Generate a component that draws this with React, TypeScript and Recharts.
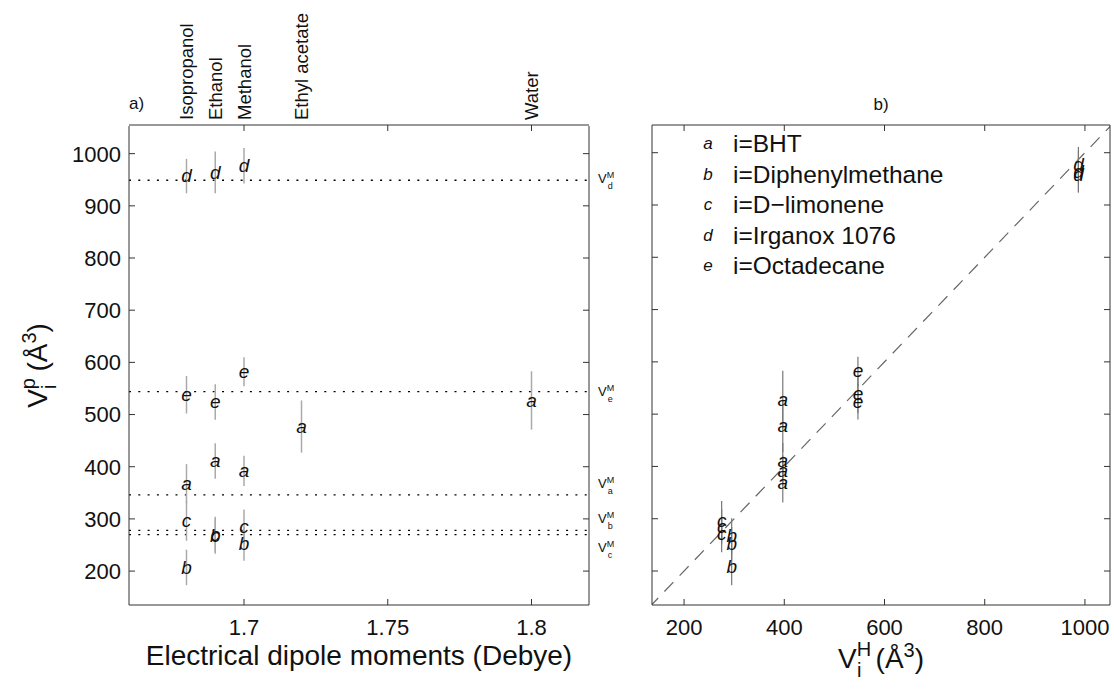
import React from 'react';
import { ScatterChart, Scatter, XAxis, YAxis, ErrorBar, ReferenceLine, Legend } from 'recharts';

// compounds (letter codes used as plot symbols)
const compoundKeys = ['a', 'b', 'c', 'd', 'e'];
const compoundNames = ['BHT', 'Diphenylmethane', 'D\u2212limonene', 'Irganox 1076', 'Octadecane'];

// solvents and their dipole moments (Debye)
const solventNames = ['Isopropanol', 'Ethanol', 'Methanol', 'Ethyl acetate', 'Water'];
const solventDipoles = [1.68, 1.69, 1.7, 1.72, 1.8];

// V_i^H per compound, V_i^M per compound
const volumeH = [397, 295, 275, 987, 547];
const volumeM = [346, 278, 270, 949, 544];

// V_i^p per solvent (null = not measured) and half error bars
const vpBHT = [368, 411, 392, 477, 527];
const errBHT = [37, 34, 29, 50, 56];
const vpDiphenyl = [207, 267, 252, null, null];
const errDiphenyl = [34, 34, 32, null, null];
const vpLimonene = [296, 270, 285, null, null];
const errLimonene = [38, 34, 33, null, null];
const vpIrganox = [957, 964, 977, null, null];
const errIrganox = [33, 40, 34, null, null];
const vpOctadecane = [538, 524, 582, null, null];
const errOctadecane = [36, 34, 28, null, null];

const leftXTicks = [1.7, 1.75, 1.8];
const rightXTicks = [200, 400, 600, 800, 1000];
const yTicks = [200, 300, 400, 500, 600, 700, 800, 900, 1000];
const identityEnds = [100, 1100];

// layout only: vertical nudge of the V^M labels on the right of panel a
const vmLabelDy = [-7, -7, 17, 3, 4];

const FONT = '"Liberation Sans", Arial, Helvetica, sans-serif';
const AXIS = '#333';
const INK = '#111';

const vpTable = [vpBHT, vpDiphenyl, vpLimonene, vpIrganox, vpOctadecane];
const errTable = [errBHT, errDiphenyl, errLimonene, errIrganox, errOctadecane];

const leftSeries = compoundKeys.map((_, ci) =>
  vpTable[ci]
    .map((v, si) => (v == null ? null : { x: solventDipoles[si], y: v, err: errTable[ci][si] as number }))
    .filter((d) => d !== null)
);
const rightSeries = compoundKeys.map((_, ci) =>
  vpTable[ci]
    .map((v, si) => (v == null ? null : { x: volumeH[ci], y: v, err: errTable[ci][si] as number }))
    .filter((d) => d !== null)
);
// one point per solvent, so the solvent axis has something bound to it
const solventAnchors = solventDipoles.map((d, si) => ({ x: d, y: vpBHT[si] }));

const noShape = () => <g />;

const letterShape = (ch: string) => (p: any) => (
  <text x={p.cx} y={p.cy} dy="0.32em" textAnchor="middle" fontSize={19} fontStyle="italic" fill={INK}>
    {ch}
  </text>
);

const bottomTick = (p: any) => (
  <g>
    <line x1={p.x} x2={p.x} y1={p.y} y2={p.y - 6} stroke={AXIS} />
    <text x={p.x} y={p.y + 30} textAnchor="middle" fontSize={22} fill={INK}>
      {p.payload.value}
    </text>
  </g>
);
const topTick = (p: any) => <line x1={p.x} x2={p.x} y1={p.y} y2={p.y + 6} stroke={AXIS} />;
const leftTickLabelled = (p: any) => (
  <g>
    <line x1={p.x} x2={p.x + 6} y1={p.y} y2={p.y} stroke={AXIS} />
    <text x={p.x - 8} y={p.y} dy="0.36em" textAnchor="end" fontSize={22} fill={INK}>
      {p.payload.value}
    </text>
  </g>
);
const leftTickBare = (p: any) => <line x1={p.x} x2={p.x + 6} y1={p.y} y2={p.y} stroke={AXIS} />;
const rightTick = (p: any) => <line x1={p.x} x2={p.x - 6} y1={p.y} y2={p.y} stroke={AXIS} />;

const solventTick = (p: any) => {
  const i = solventDipoles.indexOf(p.payload.value);
  const y = 120;
  return (
    <text x={p.x} y={y} dy="0.36em" transform={`rotate(-90, ${p.x}, ${y})`} textAnchor="start" fontSize={18.5} fill={INK}>
      {solventNames[i]}
    </text>
  );
};

const panelTitleLeft = (p: any) => (
  <text x={p.viewBox.x} y={109} fontSize={17} fill={INK}>a)</text>
);
const panelTitleRight = (p: any) => (
  <text x={p.viewBox.x + p.viewBox.width / 2} y={110} textAnchor="middle" fontSize={17} fill={INK}>b)</text>
);

const xTitleLeft = (p: any) => (
  <text x={p.viewBox.x + p.viewBox.width / 2} y={p.viewBox.y + 60} textAnchor="middle" fontSize={28} fill={INK}>
    Electrical dipole moments (Debye)
  </text>
);
const xTitleRight = (p: any) => (
  <text x={p.viewBox.x + p.viewBox.width / 2} y={p.viewBox.y + 63} textAnchor="middle" fontSize={28} fill={INK}>
    V<tspan dy={-12} fontSize={20}>H</tspan>
    <tspan dx={-14} dy={21} fontSize={20}>i</tspan>
    <tspan dx={14} dy={-9}>(Å</tspan>
    <tspan dy={-11} fontSize={20}>3</tspan>
    <tspan dy={11}>)</tspan>
  </text>
);
const yTitleLeft = (p: any) => {
  const cx = 47;
  const cy = p.viewBox.y + p.viewBox.height / 2;
  return (
    <text x={cx} y={cy} transform={`rotate(-90, ${cx}, ${cy})`} textAnchor="middle" fontSize={28} fill={INK}>
      V<tspan dy={-12} fontSize={20}>p</tspan>
      <tspan dx={-11} dy={21} fontSize={20}>i</tspan>
      <tspan dx={13} dy={-9}>(Å</tspan>
      <tspan dy={-11} fontSize={20}>3</tspan>
      <tspan dy={11}>)</tspan>
    </text>
  );
};

const vmLabel = (ci: number) => (p: any) => {
  const x = p.viewBox.x + p.viewBox.width + 9;
  const y = p.viewBox.y + vmLabelDy[ci];
  return (
    <text x={x} y={y} fontSize={13} fill={INK}>
      V<tspan dy={-5} fontSize={9}>M</tspan>
      <tspan dx={-6.5} dy={11} fontSize={9}>{compoundKeys[ci]}</tspan>
    </text>
  );
};

const LegendBox = (props: any) => (
  <div style={{ fontFamily: FONT, color: INK }}>
    {(props.payload || [])
      .filter((entry: any) => compoundNames.indexOf(entry.value) >= 0)
      .map((entry: any) => {
        const ci = compoundNames.indexOf(entry.value);
        return (
          <div key={entry.value} style={{ position: 'relative', height: 30.6, lineHeight: '30.6px' }}>
            <span style={{ position: 'absolute', left: 0, width: 16, textAlign: 'center', fontStyle: 'italic', fontSize: 17 }}>
              {compoundKeys[ci]}
            </span>
            <span style={{ position: 'absolute', left: 33, fontSize: 24.5, whiteSpace: 'nowrap' }}>i={entry.value}</span>
          </div>
        );
      })}
  </div>
);

const leftDomainX: [number, number] = [1.66, 1.82];
const rightDomainX: [number, number] = [136, 1050];
const domainY: [number, number] = [135, 1053];

export default function App() {
  return (
    <div style={{ position: 'absolute', left: 0, top: 0, width: 1114, height: 689, background: '#fff', fontFamily: FONT }}>
      <div style={{ position: 'absolute', left: 0, top: 0 }}>
        <ScatterChart width={620} height={689} margin={{ top: 124, right: 30, bottom: 0, left: 0 }}>
          <XAxis dataKey="x" type="number" domain={leftDomainX} allowDataOverflow ticks={leftXTicks} interval={0}
            height={84} tickSize={0} tickMargin={0} tickLine={false} stroke={AXIS} tick={bottomTick} label={xTitleLeft} />
          <XAxis xAxisId="top" dataKey="x" orientation="top" type="number" domain={leftDomainX} allowDataOverflow ticks={leftXTicks}
            interval={0} height={1} tickSize={0} tickMargin={0} tickLine={false} stroke={AXIS} tick={topTick} label={panelTitleLeft} />
          <XAxis xAxisId="solv" dataKey="x" orientation="top" type="number" domain={leftDomainX} allowDataOverflow ticks={solventDipoles}
            interval={0} height={1} tickSize={0} tickMargin={0} tickLine={false} axisLine={false} tick={solventTick} />
          <YAxis dataKey="y" type="number" domain={domainY} allowDataOverflow ticks={yTicks} interval={0}
            width={129} tickSize={0} tickMargin={0} tickLine={false} stroke={AXIS} tick={leftTickLabelled} label={yTitleLeft} />
          <YAxis yAxisId="right" dataKey="y" orientation="right" type="number" domain={domainY} allowDataOverflow ticks={yTicks}
            interval={0} width={1} tickSize={0} tickMargin={0} tickLine={false} stroke={AXIS} tick={rightTick} />
          {volumeM.map((v, ci) => (
            <ReferenceLine key={`vm-${ci}`} y={v} stroke="#000" strokeWidth={1.3} strokeDasharray="2 7.3" label={vmLabel(ci)} />
          ))}
          <Scatter name="top-right frame" xAxisId="top" yAxisId="right" data={solventAnchors} isAnimationActive={false} shape={noShape} legendType="none" />
          <Scatter name="solvents" xAxisId="solv" data={solventAnchors} isAnimationActive={false} shape={noShape} legendType="none" />
          {compoundKeys.map((k, ci) => (
            <Scatter key={k} name={compoundNames[ci]} data={leftSeries[ci]} isAnimationActive={false} shape={letterShape(k)}>
              <ErrorBar dataKey="err" direction="y" width={0} stroke="#aaa" strokeWidth={1.5} isAnimationActive={false} />
            </Scatter>
          ))}
        </ScatterChart>
      </div>
      <div style={{ position: 'absolute', left: 620, top: 0 }}>
        <ScatterChart width={494} height={689} margin={{ top: 124, right: 3, bottom: 0, left: 0 }}>
          <XAxis dataKey="x" type="number" domain={rightDomainX} allowDataOverflow ticks={rightXTicks} interval={0}
            height={84} tickSize={0} tickMargin={0} tickLine={false} stroke={AXIS} tick={bottomTick} label={xTitleRight} />
          <XAxis xAxisId="top" dataKey="x" orientation="top" type="number" domain={rightDomainX} allowDataOverflow ticks={rightXTicks}
            interval={0} height={1} tickSize={0} tickMargin={0} tickLine={false} stroke={AXIS} tick={topTick} label={panelTitleRight} />
          <YAxis dataKey="y" type="number" domain={domainY} allowDataOverflow ticks={yTicks} interval={0}
            width={32} tickSize={0} tickMargin={0} tickLine={false} stroke={AXIS} tick={leftTickBare} />
          <YAxis yAxisId="right" dataKey="y" orientation="right" type="number" domain={domainY} allowDataOverflow ticks={yTicks}
            interval={0} width={1} tickSize={0} tickMargin={0} tickLine={false} stroke={AXIS} tick={rightTick} />
          <ReferenceLine
            segment={[{ x: identityEnds[0], y: identityEnds[0] }, { x: identityEnds[1], y: identityEnds[1] }]}
            ifOverflow="hidden" stroke="#666" strokeWidth={1.2} strokeDasharray="13 9" />
          <Legend layout="vertical" align="center" verticalAlign="middle" content={LegendBox}
            wrapperStyle={{ left: 80, top: 129, width: 330, height: 160 }} />
          <Scatter name="top-right frame" xAxisId="top" yAxisId="right" data={rightSeries[0]} isAnimationActive={false} shape={noShape} legendType="none" />
          {compoundKeys.map((k, ci) => (
            <Scatter key={k} name={compoundNames[ci]} data={rightSeries[ci]} isAnimationActive={false} shape={letterShape(k)}>
              <ErrorBar dataKey="err" direction="y" width={0} stroke="#777" strokeWidth={1.2} isAnimationActive={false} />
            </Scatter>
          ))}
        </ScatterChart>
      </div>
    </div>
  );
}
